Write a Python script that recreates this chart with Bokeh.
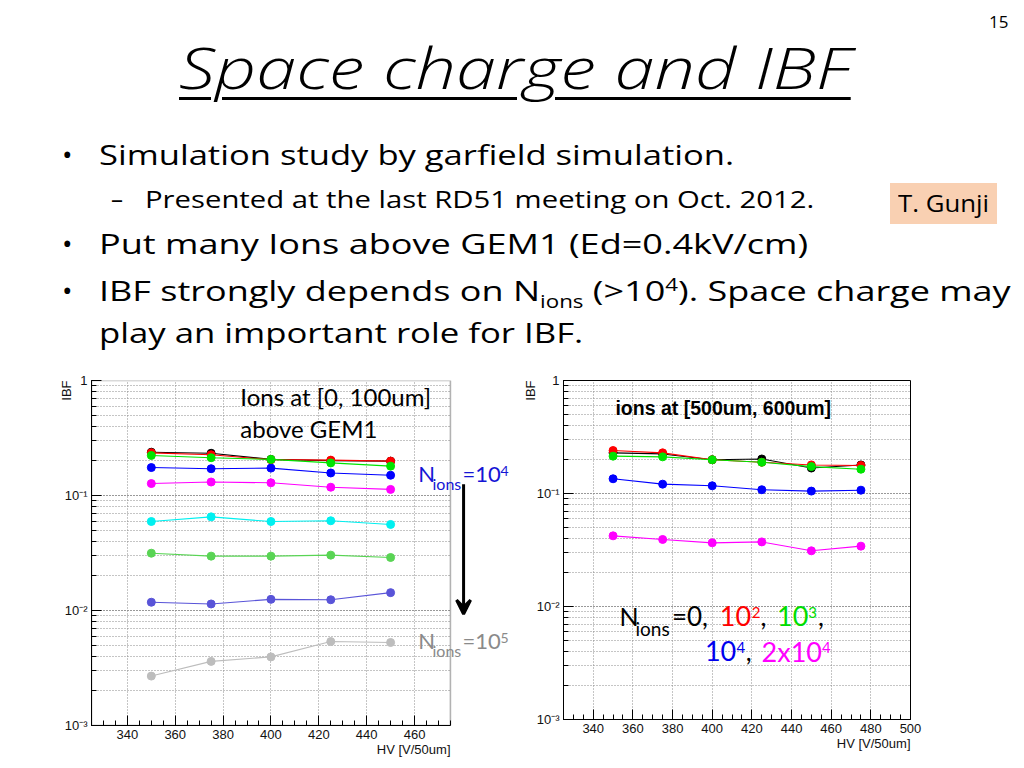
from bokeh.plotting import figure
from bokeh.models import (Div, Label, Arrow, VeeHead, LogTicker, SingleIntervalTicker,
                          CustomJSTickFormatter, Range1d, Title, BoxAnnotation)
from bokeh.layouts import column, row
from bokeh.embed import file_html
from bokeh.resources import INLINE

# ---------------- data: left panel (ions at [0, 100um]) ----------------
hv_left = [350, 375, 400, 425, 450]
left_n0 = [0.238, 0.233, 0.206, 0.201, 0.199]
left_n1e2 = [0.235, 0.226, 0.205, 0.203, 0.199]
left_n1e3 = [0.223, 0.213, 0.206, 0.192, 0.180]
left_n1e4 = [0.175, 0.171, 0.173, 0.157, 0.150]
left_n2e4 = [0.127, 0.131, 0.129, 0.118, 0.113]
left_s6 = [0.0594, 0.0652, 0.0594, 0.0603, 0.0560]
left_s7 = [0.0315, 0.0297, 0.0297, 0.0303, 0.0289]
left_s8 = [0.0118, 0.0114, 0.0125, 0.0124, 0.0143]
left_n1e5 = [0.00269, 0.00361, 0.00395, 0.00537, 0.00527]

# ---------------- data: right panel (ions at [500um, 600um]) ----------------
hv_right = [350, 375, 400, 425, 450, 475]
right_n0 = [0.229, 0.224, 0.199, 0.202, 0.168, 0.179]
right_n1e2 = [0.240, 0.229, 0.199, 0.189, 0.179, 0.177]
right_n1e3 = [0.214, 0.211, 0.199, 0.189, 0.173, 0.164]
right_n1e4 = [0.135, 0.121, 0.117, 0.108, 0.105, 0.107]
right_n2e4 = [0.0422, 0.0392, 0.0366, 0.0373, 0.0311, 0.0342]

left_series = [
    (left_n1e5, "#bdbdbd"), (left_s8, "#5954d8"), (left_s7, "#59d454"),
    (left_s6, "#00f0f0"), (left_n2e4, "#ff00ff"), (left_n1e4, "#0000ff"),
    (left_n0, "#000000"), (left_n1e2, "#ff0000"), (left_n1e3, "#00e400"),
]
right_series = [
    (right_n2e4, "#ff00ff"), (right_n1e4, "#0000ff"),
    (right_n0, "#000000"), (right_n1e2, "#ff0000"), (right_n1e3, "#00e400"),
]

y_tick_labels_js = """
const e = Math.round(Math.log10(tick));
if (e === 0) { return '1'; }
const sup = {'-':'\u207b','0':'\u2070','1':'\u00b9','2':'\u00b2','3':'\u00b3','4':'\u2074','5':'\u2075','6':'\u2076','7':'\u2077','8':'\u2078','9':'\u2079'};
return '10' + String(e).split('').map(c => sup[c]).join('');
"""

AXFONT = "Liberation Sans"
X0, X_AXIS_END = 325, 475


def make_panel(x_end, axis_end, frame_w, frame_h, b_left, b_top, b_right, b_bottom):
    p = figure(x_range=Range1d(X0, x_end), y_range=Range1d(1e-3, 1), y_axis_type="log",
               frame_width=frame_w, frame_height=frame_h,
               min_border_left=b_left, min_border_top=b_top,
               min_border_right=b_right, min_border_bottom=b_bottom,
               output_backend="svg", toolbar_location=None, margin=0)
    p.background_fill_color = "white"
    p.border_fill_color = "white"
    p.xaxis.ticker = SingleIntervalTicker(interval=20, num_minor_ticks=4)
    p.xaxis.bounds = (X0, axis_end)
    p.yaxis.ticker = LogTicker(mantissas=[1], num_minor_ticks=10)
    p.yaxis.formatter = CustomJSTickFormatter(code=y_tick_labels_js)
    for ax in (p.xaxis[0], p.yaxis[0]):
        ax.axis_line_color = "black"
        ax.major_tick_line_color = "black"
        ax.minor_tick_line_color = "black"
        ax.major_tick_out = 0
        ax.minor_tick_out = 0
        ax.major_tick_in = 10
        ax.minor_tick_in = 5
        ax.major_label_text_font = AXFONT
        ax.major_label_text_font_size = "13px"
        ax.major_label_text_color = "#111111"
        ax.major_label_standoff = 4
    p.xgrid.grid_line_color = "#8a8a8a"
    p.xgrid.grid_line_dash = "1 2"
    p.ygrid.grid_line_color = "#8a8a8a"
    p.ygrid.grid_line_dash = "1 2"
    p.ygrid.minor_grid_line_color = "#8a8a8a"
    p.ygrid.minor_grid_line_dash = "1 2"
    if x_end != axis_end:
        p.ygrid.cross_bounds = (X0, axis_end)
        p.outline_line_color = None
        p.add_layout(BoxAnnotation(left=X0, right=axis_end, bottom=1e-3, top=1,
                                   fill_color=None, line_color="black", line_width=1.6))
    else:
        p.outline_line_color = "black"
    return p


def axis_titles(p, hv_offset, ibf_standoff):
    p.add_layout(Title(text="IBF", align="right", text_font=AXFONT, text_font_size="13px",
                       text_font_style="normal", text_color="#111111",
                       standoff=ibf_standoff), "left")
    p.add_layout(Title(text="HV [V/50um]", align="right", offset=hv_offset, text_font=AXFONT,
                       text_font_size="13px", text_font_style="normal", text_color="#111111",
                       standoff=0, vertical_align="top"), "below")


def txt(p, x, y, text, size, color="black", dy=0, font="Lato", style="normal"):
    p.add_layout(Label(x=x, y=y, text=text, text_font=font, text_font_size=f"{size}px",
                       text_color=color, text_font_style=style, text_baseline="middle",
                       text_align="left", y_offset=dy))


# ---------------- left panel ----------------
p1 = make_panel(502.2, X_AXIS_END, 424, 345, 91, 12, 0, 41)
for vals, col in left_series:
    p1.line(hv_left, vals, line_color=col, line_width=1.1)
    p1.scatter(hv_left, vals, size=8, fill_color=col, line_color=col)
axis_titles(p1, 65, -24)
txt(p1, 387.2, 0.726, "Ions at [0, 100um]", 24)
txt(p1, 387.2, 0.383, "above GEM1", 24)
blue_t = "#1515d5"
txt(p1, 461.6, 0.155, "N", 22, blue_t)
txt(p1, 467.5, 0.155, "ions", 16, blue_t, dy=-9.5)
txt(p1, 480.0, 0.155, "=10", 22, blue_t)
txt(p1, 495.9, 0.155, "4", 14, blue_t, dy=3)
gray_t = "#8a8a8a"
txt(p1, 461.6, 0.00548, "N", 22, gray_t)
txt(p1, 467.5, 0.00548, "ions", 16, gray_t, dy=-9.5)
txt(p1, 480.0, 0.00548, "=10", 22, gray_t)
txt(p1, 495.9, 0.00548, "5", 14, gray_t, dy=3)
p1.add_layout(Arrow(end=VeeHead(size=14, line_width=3, line_color="black"),
                    x_start=480.5, y_start=0.125, x_end=480.5, y_end=0.0093,
                    line_width=3, line_color="black"))

# ---------------- right panel ----------------
p2 = make_panel(500, 500, 347, 339, 48, 18, 30, 41)
for vals, col in right_series:
    p2.line(hv_right, vals, line_color=col, line_width=1.1)
    p2.scatter(hv_right, vals, size=8, fill_color=col, line_color=col)
axis_titles(p2, 0, -8)
txt(p2, 351.2, 0.569, "ions at [500um, 600um]", 19.5, font=AXFONT, style="bold")
y1, y2 = 0.00819, 0.00402
txt(p2, 353.3, y1, "N", 25)
txt(p2, 361.3, y1, "ions", 19, dy=-12)
txt(p2, 379.7, y1, "=0,", 26)
txt(p2, 403.8, y1, "10", 27, "#ff0000")
txt(p2, 420.0, y1, "2", 15, "#ff0000", dy=4)
txt(p2, 424.3, y1, ",", 26)
txt(p2, 432.7, y1, "10", 27, "#00dd00")
txt(p2, 448.4, y1, "3", 15, "#00dd00", dy=4)
txt(p2, 453.3, y1, ",", 26)
txt(p2, 396.3, y2, "10", 27, "#0000ee")
txt(p2, 412.2, y2, "4", 15, "#0000ee", dy=4)
txt(p2, 416.9, y2, ",", 26)
txt(p2, 424.9, y2, "2x10", 27, "#ff00ff")
txt(p2, 455.4, y2, "4", 15, "#ff00ff", dy=4)

# ---------------- slide text ----------------
F = "'Open Sans', sans-serif"


def line(left, top, size, k, content, extra=""):
    return (f'<div style="position:absolute;left:{left}px;top:{top}px;font-size:{size}px;'
            f'line-height:{size}px;white-space:nowrap;transform:scaleX({k});'
            f'transform-origin:0 0;{extra}">{content}</div>')


sub = '<sub style="font-size:62%;line-height:0;">ions</sub>'
sup4 = '<sup style="font-size:62%;line-height:0;">4</sup>'
parts = [
    line(989, 13, 17, 1.0, "15"),
    line(179, 39, 57, 1.263, "Space charge and IBF",
         "font-style:italic;font-weight:300;text-decoration:underline;"
         "text-decoration-thickness:3px;text-underline-offset:8px;"),
    line(62, 140, 28, 1.0, "&bull;"),
    line(99, 140, 28, 1.235, "Simulation study by garfield simulation."),
    line(111, 187, 24, 1.0, "&ndash;"),
    line(145, 187, 24, 1.22, "Presented at the last RD51 meeting on Oct. 2012."),
    '<div style="position:absolute;left:890px;top:183px;width:107px;height:41px;'
    'background:#f9d0b2;"></div>',
    line(898, 183, 23, 1.12, "T. Gunji", "line-height:41px;"),
    line(62, 229, 28, 1.0, "&bull;"),
    line(99, 229, 28, 1.289, "Put many Ions above GEM1 (Ed=0.4kV/cm)"),
    line(62, 276, 28, 1.0, "&bull;"),
    line(99, 276, 28, 1.286, f"IBF strongly depends on N{sub} (&gt;10{sup4}). Space charge may"),
    line(99, 318, 28, 1.24, "play an important role for IBF."),
]
html = (f'<div style="position:relative;width:1016px;height:362px;font-family:{F};color:#000;">'
        + "".join(parts) + "</div>")
header = Div(text=html, width=1016, height=362, margin=0)

layout = column(header, row(p1, p2, margin=0), margin=0)
open("out.html", "w").write(file_html(layout, INLINE))
